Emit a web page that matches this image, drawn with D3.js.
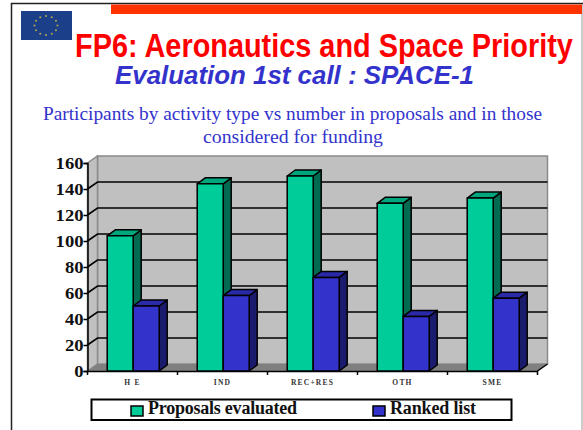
<!DOCTYPE html>
<html>
<head>
<meta charset="utf-8">
<script src="https://cdn.jsdelivr.net/npm/d3@7"></script>
<style>
html, body { margin: 0; padding: 0; background: #fff; }
svg { display: block; }
</style>
</head>
<body>
<svg id="chart"></svg>
<script>
// values
var categories = ["H E", "IND", "REC+RES", "OTH", "SME"];
var seriesNames = ["Proposals evaluated", "Ranked list"];
var proposals = [104, 144, 150, 129, 133];
var ranked = [50, 58, 72, 42, 56];
var yTicks = [0, 20, 40, 60, 80, 100, 120, 140, 160];

var width = 583, height = 430;
var serif = "'Liberation Serif', serif";
var sans = "'Liberation Sans', sans-serif";

var svg = d3.select("#chart").attr("width", width).attr("height", height);

// slide frame and header
svg.append("rect").attr("width", width).attr("height", height).attr("fill", "#fff");
svg.append("path").attr("d", "M11.5,430V3.5H583").attr("fill", "none").attr("stroke", "#222").attr("stroke-width", 1.5);
svg.append("line").attr("x1", 582).attr("x2", 582).attr("y1", 4).attr("y2", 430).attr("stroke", "#999");
svg.append("rect").attr("x", 111).attr("y", 4.5).attr("width", 471).attr("height", 9.5).attr("fill", "#ff3300");

// flag
svg.append("rect").attr("x", 21).attr("y", 11).attr("width", 51).attr("height", 29).attr("fill", "#1c3f8a");
svg.append("g").selectAll("circle")
    .data(d3.range(12))
    .enter()
        .append("circle")
        .attr("cx", d => 46 + 11.5*Math.cos(d*Math.PI/6))
        .attr("cy", d => 25.5 + 9.5*Math.sin(d*Math.PI/6))
        .attr("r", 1.1).attr("fill", "#a8a04a");

// title is squeezed with a transform so its box stays inside the page
var title = svg.append("text")
    .attr("font-family", sans).attr("font-size", 34).attr("font-weight", "bold").attr("fill", "#ff0000")
    .text("FP6: Aeronautics and Space Priority");
var titleScale = 498/title.node().getComputedTextLength();
title.attr("transform", "translate(75,56.5) scale(" + titleScale + ",1)");

svg.append("text").attr("x", 115).attr("y", 84)
    .attr("textLength", 359).attr("lengthAdjust", "spacingAndGlyphs")
    .attr("font-family", sans).attr("font-size", 25).attr("font-weight", "bold").attr("font-style", "italic").attr("fill", "#3333cc")
    .text("Evaluation 1st call : SPACE-1");
svg.append("text").attr("x", 43).attr("y", 120)
    .attr("textLength", 499).attr("lengthAdjust", "spacingAndGlyphs")
    .attr("font-family", serif).attr("font-size", 18).attr("fill", "#3333cc")
    .text("Participants by activity type  vs number in proposals and in those");
svg.append("text").attr("x", 203).attr("y", 143)
    .attr("textLength", 180).attr("lengthAdjust", "spacingAndGlyphs")
    .attr("font-family", serif).attr("font-size", 18).attr("fill", "#3333cc")
    .text("considered for funding");

// scales
var x0 = d3.scaleBand().domain(categories).range([87.5, 537.5]);
var barW = 26;
var x1 = d3.scaleBand().domain(seriesNames).range([x0.bandwidth()/2 - barW + 0.7, x0.bandwidth()/2 + barW + 0.7]);
var y = d3.scaleLinear().domain([0, 160]).range([371, 163]);

// depth of the box and of the bars
var wallDx = 10, wallDy = 7;
var barDx = 8, barDy = 6;
var xL = x0.range()[0], xR = x0.range()[1];

function poly(pts){
        return "M" + pts.map(p => p.join(",")).join("L") + "Z";
}

// walls
svg.append("path")
    .attr("d", poly([[xL + wallDx, y(160) - wallDy], [xR + wallDx, y(160) - wallDy], [xR + wallDx, y(0) - wallDy], [xL + wallDx, y(0) - wallDy]]))
    .attr("fill", "#c0c0c0").attr("stroke", "#8a8a8a").attr("stroke-width", 1.5);
svg.append("path")
    .attr("d", poly([[xL, y(160)], [xL + wallDx, y(160) - wallDy], [xL + wallDx, y(0) - wallDy], [xL, y(0)]]))
    .attr("fill", "#c0c0c0").attr("stroke", "#8a8a8a").attr("stroke-width", 1.5);
svg.append("path")
    .attr("d", poly([[xL, y(0)], [xL + wallDx, y(0) - wallDy], [xR + wallDx, y(0) - wallDy], [xR, y(0)]]))
    .attr("fill", "#808080");
svg.append("line").attr("x1", xR).attr("y1", y(0)).attr("x2", xR + wallDx).attr("y2", y(0) - wallDy)
    .attr("stroke", "#000").attr("stroke-width", 1.5);

// gridlines on the back wall and their run down the left wall
var grid = svg.append("g").selectAll("path")
    .data(yTicks.filter(d => d > 0 && d < 160))
    .enter()
        .append("path")
        .attr("d", d => "M" + xL + "," + y(d) + "L" + (xL + wallDx) + "," + (y(d) - wallDy) + "H" + (xR + wallDx))
        .attr("fill", "none").attr("stroke", "#000").attr("stroke-width", 1.6);

// axes
var yAxis = svg.append("g").attr("transform", "translate(" + xL + ",0)")
    .call(d3.axisLeft(y).tickValues(yTicks).tickSize(4).tickPadding(0));
yAxis.selectAll("path, line").attr("stroke", "#000").attr("stroke-width", 1.5);
yAxis.selectAll("text")
    .attr("font-family", serif).attr("font-size", 16).attr("font-weight", "bold").attr("fill", "#111")
    .attr("textLength", d => String(d).length*9.3).attr("lengthAdjust", "spacingAndGlyphs");

var xAxis = svg.append("g").attr("transform", "translate(0," + y(0) + ")")
    .call(d3.axisBottom(x0).tickSize(0).tickPadding(9));
xAxis.select(".domain").attr("stroke", "#000").attr("stroke-width", 1.5);
xAxis.selectAll("text")
    .attr("font-family", serif).attr("font-size", 7.5).attr("font-weight", "bold").attr("letter-spacing", 1.2).attr("fill", "#333");
svg.append("g").selectAll("line")
    .data(d3.range(categories.length + 1))
    .enter()
        .append("line")
        .attr("x1", d => xL + d*x0.bandwidth()).attr("x2", d => xL + d*x0.bandwidth())
        .attr("y1", y(0)).attr("y2", y(0) + 4)
        .attr("stroke", "#000").attr("stroke-width", 1.5);

// 3D bars
var seriesValues = [proposals, ranked];
var frontColors = ["#00cc99", "#3333cc"];
var topColors = ["#00a67c", "#2a2aa8"];
var sideColors = ["#006b50", "#1b1b6e"];

categories.forEach((cat, c) => {
        seriesNames.forEach((name, s) => {
                let left = x0(cat) + x1(name);
                let right = left + barW;
                let top = y(seriesValues[s][c]);
                let bottom = y(0);
                let bar = svg.append("g").attr("class", "bar").attr("stroke", "#000").attr("stroke-width", 1.5).attr("stroke-linejoin", "round");
                bar.append("path").attr("d", poly([[right, top], [right + barDx, top - barDy], [right + barDx, bottom - barDy], [right, bottom]])).attr("fill", sideColors[s]);
                bar.append("path").attr("d", poly([[left, top], [left + barDx, top - barDy], [right + barDx, top - barDy], [right, top]])).attr("fill", topColors[s]);
                bar.append("path").attr("d", poly([[left, top], [right, top], [right, bottom], [left, bottom]])).attr("fill", frontColors[s]);
        });
});

// legend
svg.append("rect").attr("x", 91.5).attr("y", 399.5).attr("width", 420).attr("height", 20.5)
    .attr("fill", "#fff").attr("stroke", "#000").attr("stroke-width", 2);
var legendX = [131, 373];
var legendTextX = [148, 390];
var legendTextW = [149, 86];
seriesNames.forEach((name, s) => {
        svg.append("rect").attr("x", legendX[s]).attr("y", 406).attr("width", 12).attr("height", 10)
            .attr("fill", frontColors[s]).attr("stroke", "#000").attr("stroke-width", 1.5);
        svg.append("text").attr("x", legendTextX[s]).attr("y", 413.5)
            .attr("textLength", legendTextW[s]).attr("lengthAdjust", "spacing")
            .attr("font-family", serif).attr("font-size", 18).attr("font-weight", "bold").attr("fill", "#111")
            .text(name);
});
</script>
</body>
</html>
